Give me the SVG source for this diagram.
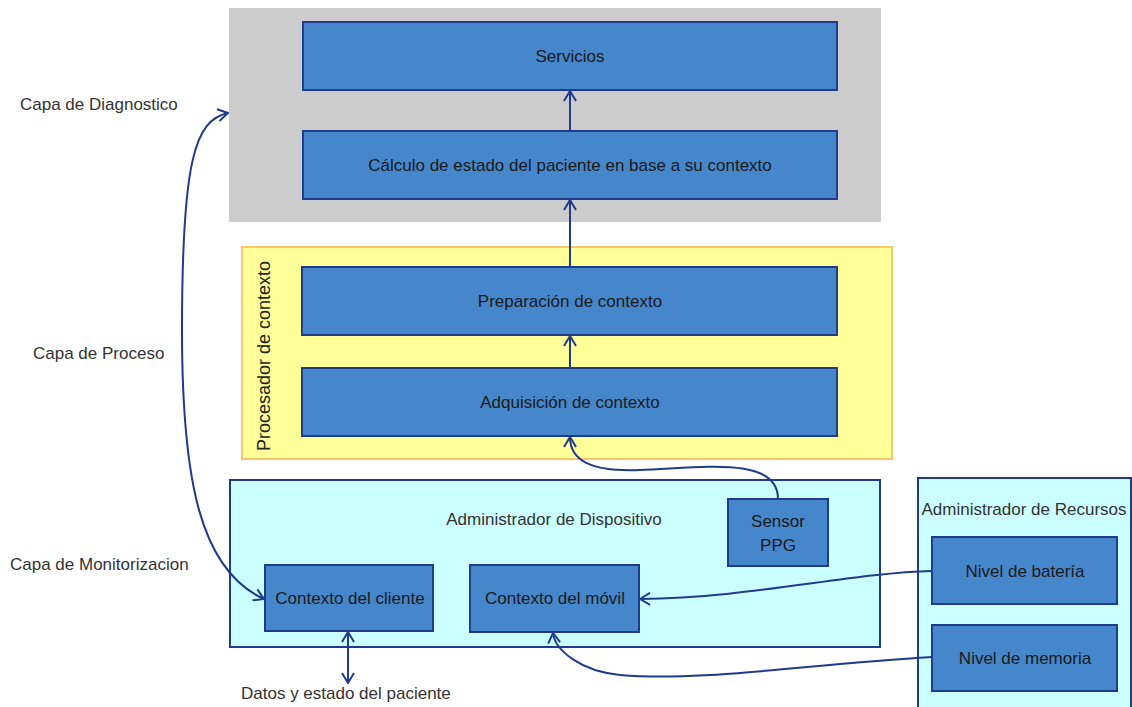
<svg xmlns="http://www.w3.org/2000/svg" width="1132" height="707" viewBox="0 0 1132 707">
<defs>
<style>
.node{fill:#4686cb;stroke:#203a8c;stroke-width:2}
.t{font-family:"Liberation Sans",Arial,sans-serif;font-size:17px;fill:#1a1a1a;text-anchor:middle;dominant-baseline:central}
.lbl{font-family:"Liberation Sans",Arial,sans-serif;font-size:17px;fill:#333;dominant-baseline:central}
.c{fill:none;stroke:#203a8c;stroke-width:2}
</style>
<marker id="ah" viewBox="0 0 12 14" refX="11" refY="7" markerWidth="12" markerHeight="14" markerUnits="userSpaceOnUse" orient="auto-start-reverse">
<path d="M1,1 L11,7 L1,13" fill="none" stroke="#203a8c" stroke-width="2"/>
</marker>
</defs>
<rect width="1132" height="707" fill="#ffffff"/>
<g id="capa-diagnostico">
<rect x="229" y="8" width="652" height="214" fill="#cccccc"/>
</g>
<g id="procesador-contexto">
<rect x="242" y="247" width="650" height="212" fill="#ffff99" stroke="#f9c76a" stroke-width="2"/>
<text class="t" transform="translate(264,356) rotate(-90)" style="font-size:18px;fill:#222">Procesador de contexto</text>
</g>
<g id="admin-dispositivo">
<rect x="230" y="480" width="650" height="167" fill="#ccffff" stroke="#203a8c" stroke-width="2"/>
<text class="t" x="554" y="519" style="fill:#333">Administrador de Dispositivo</text>
</g>
<g id="admin-recursos">
<rect x="918" y="478" width="213" height="240" fill="#ccffff" stroke="#203a8c" stroke-width="2"/>
<text class="t" x="1024" y="509" style="fill:#333">Administrador de Recursos</text>
</g>
<g id="servicios"><rect class="node" x="303" y="22" width="534" height="68"/><text class="t" x="570" y="56">Servicios</text></g>
<g id="calculo"><rect class="node" x="303" y="131" width="534" height="68"/><text class="t" x="570" y="165">Cálculo de estado del paciente en base a su contexto</text></g>
<g id="preparacion"><rect class="node" x="302" y="267" width="535" height="68"/><text class="t" x="570" y="301">Preparación de contexto</text></g>
<g id="adquisicion"><rect class="node" x="302" y="368" width="535" height="68"/><text class="t" x="570" y="402">Adquisición de contexto</text></g>
<g id="sensor"><rect class="node" x="728" y="499" width="100" height="67"/><text class="t" x="778" y="521">Sensor</text><text class="t" x="778" y="545">PPG</text></g>
<g id="ctx-cliente"><rect class="node" x="265" y="565" width="168" height="66"/><text class="t" x="350" y="598">Contexto del cliente</text></g>
<g id="ctx-movil"><rect class="node" x="470" y="565" width="169" height="67"/><text class="t" x="555" y="598">Contexto del móvil</text></g>
<g id="bateria"><rect class="node" x="932" y="537" width="185" height="67"/><text class="t" x="1025" y="571">Nivel de batería</text></g>
<g id="memoria"><rect class="node" x="932" y="625" width="185" height="66"/><text class="t" x="1025" y="658">Nivel de memoria</text></g>
<g id="labels">
<text class="lbl" x="20" y="104">Capa de Diagnostico</text>
<text class="lbl" x="33" y="353">Capa de Proceso</text>
<text class="lbl" x="10" y="564">Capa de Monitorizacion</text>
<text class="lbl" x="241" y="693">Datos y estado del paciente</text>
</g>
<g id="connectors">
<path class="c" d="M570,131 L570,91" marker-end="url(#ah)"/>
<path class="c" d="M570,267 L570,200" marker-end="url(#ah)"/>
<path class="c" d="M570,368 L570,336" marker-end="url(#ah)"/>
<path class="c" d="M778,499 C778,455 700,468 640,470 C590,472 570,460 570,437" marker-end="url(#ah)"/>
<path class="c" d="M932,571 C850,573 750,598 640,599" marker-end="url(#ah)"/>
<path class="c" d="M932,657 C800,665 700,682 620,675 C580,671 555,650 553,633" marker-end="url(#ah)"/>
<path class="c" d="M228,113 C195,120 182,160 182,330 C182,480 200,570 264,599" marker-start="url(#ah)" marker-end="url(#ah)"/>
<path class="c" d="M348,632 L348,683" marker-start="url(#ah)" marker-end="url(#ah)"/>
</g>
</svg>
